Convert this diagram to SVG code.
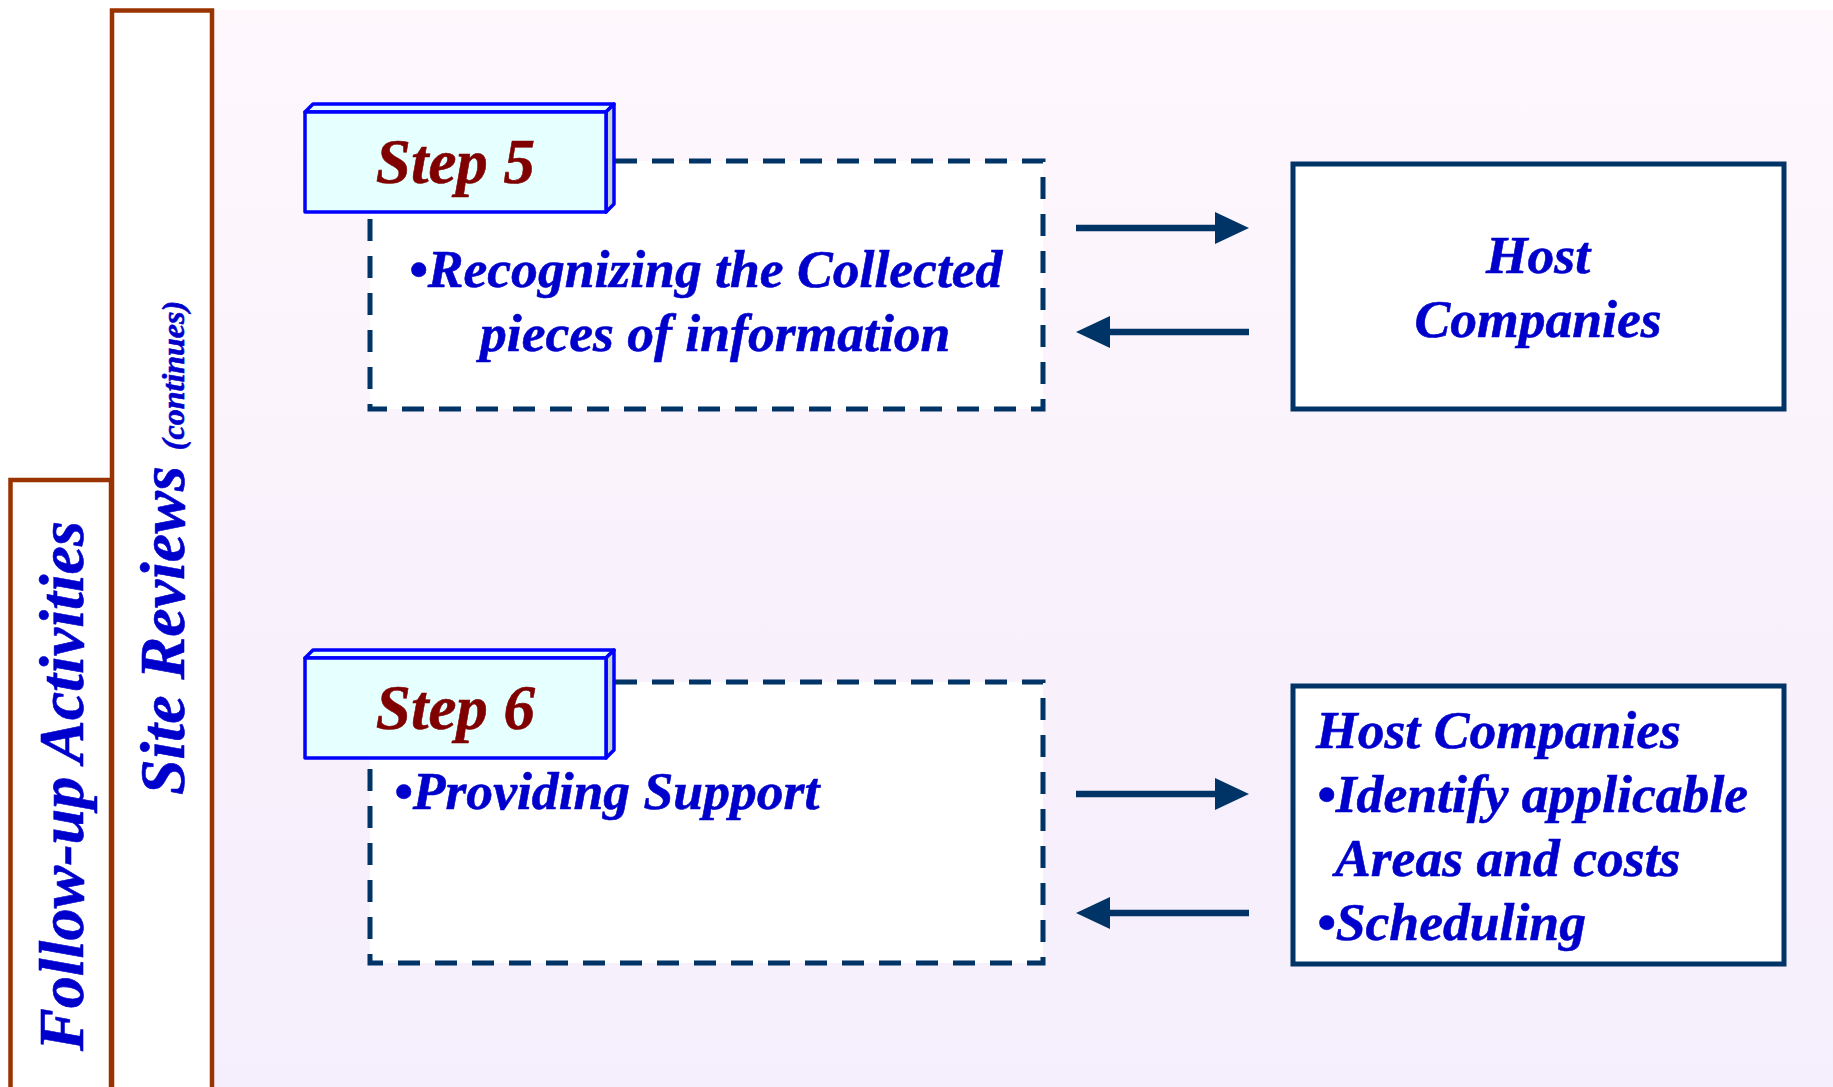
<svg xmlns="http://www.w3.org/2000/svg" width="1833" height="1087" viewBox="0 0 1833 1087">
<defs>
<linearGradient id="bg" x1="0" y1="0" x2="0" y2="1">
<stop offset="0" stop-color="#fef7fc"/>
<stop offset="1" stop-color="#f5eefc"/>
</linearGradient>
<marker id="ah" markerUnits="userSpaceOnUse" markerWidth="34" markerHeight="32" viewBox="0 0 34 32" refX="5" refY="16" orient="auto">
<path d="M0,0 L34,16 L0,32 z" fill="#003366"/>
</marker>
<style>
.t{font-family:"Liberation Serif","Times New Roman",serif;font-weight:bold;font-style:italic;fill:#0000cc;stroke:#0000cc;stroke-width:0.6}
.side{fill:#ffffff;stroke:#993300;stroke-width:4.5}
.dash{fill:#ffffff;stroke:#003366;stroke-width:5;stroke-dasharray:22 15;stroke-dashoffset:14}
.host{fill:#ffffff;stroke:#003366;stroke-width:5}
.sf{fill:#e6ffff;stroke:#0000ff;stroke-width:3.5;stroke-linejoin:round}
.ss{fill:#c4d4d4;stroke:#0000ff;stroke-width:3.5;stroke-linejoin:round}
.st{font-family:"Liberation Serif","Times New Roman",serif;font-weight:bold;font-style:italic;fill:#800000;stroke:#800000;stroke-width:0.6;font-size:63px}
.arr{stroke:#003366;stroke-width:6.5;fill:none;marker-end:url(#ah)}
</style>
</defs>
<rect x="0" y="0" width="1833" height="1087" fill="#ffffff"/>
<rect x="213" y="10" width="1620" height="1077" fill="url(#bg)"/>

<g id="follow-up">
<rect class="side" x="10.5" y="480" width="100.5" height="620"/>
<text class="t" font-size="64" transform="translate(83,1051) rotate(-90)" textLength="530" lengthAdjust="spacingAndGlyphs">Follow-up Activities</text>
</g>

<g id="site-reviews">
<rect class="side" x="112" y="10.5" width="100" height="1090"/>
<text class="t" font-size="64" transform="translate(184,795) rotate(-90)">Site Reviews <tspan font-size="32">(continues)</tspan></text>
</g>

<g id="step5-content">
<rect class="dash" x="370" y="161" width="673" height="248"/>
<text class="t" font-size="53.6" x="409" y="287">•Recognizing the Collected</text>
<text class="t" font-size="53.6" x="480" y="351">pieces of information</text>
</g>

<g id="step5">
<polygon class="sf" points="305,112 313,104 614,104 606,112"/>
<polygon class="ss" points="606,112 614,104 614,204 606,212"/>
<rect class="sf" x="305" y="112" width="301" height="100"/>
<text class="st" x="455.5" y="183" text-anchor="middle">Step 5</text>
</g>

<g id="step6-content">
<rect class="dash" x="370" y="682" width="673" height="281"/>
<text class="t" font-size="53.6" x="394" y="809">•Providing Support</text>
</g>

<g id="step6">
<polygon class="sf" points="305,658 313,650 614,650 606,658"/>
<polygon class="ss" points="606,658 614,650 614,750 606,758"/>
<rect class="sf" x="305" y="658" width="301" height="100"/>
<text class="st" x="455.5" y="729" text-anchor="middle">Step 6</text>
</g>

<g id="host1">
<rect class="host" x="1293" y="164" width="491" height="245"/>
<text class="t" font-size="53.6" x="1538" y="273" text-anchor="middle">Host</text>
<text class="t" font-size="53.6" x="1538" y="337" text-anchor="middle">Companies</text>
</g>

<g id="host2">
<rect class="host" x="1293" y="686" width="491" height="278"/>
<text class="t" font-size="53.6" x="1316" y="748">Host Companies</text>
<text class="t" font-size="53.6" x="1317" y="812">•Identify applicable</text>
<text class="t" font-size="53.6" x="1335" y="876">Areas and costs</text>
<text class="t" font-size="53.6" x="1317" y="940">•Scheduling</text>
</g>

<g id="connectors">
<line class="arr" x1="1076" y1="228" x2="1220" y2="228"/>
<line class="arr" x1="1249" y1="332" x2="1105" y2="332"/>
<line class="arr" x1="1076" y1="794" x2="1220" y2="794"/>
<line class="arr" x1="1249" y1="913" x2="1105" y2="913"/>
</g>
</svg>
